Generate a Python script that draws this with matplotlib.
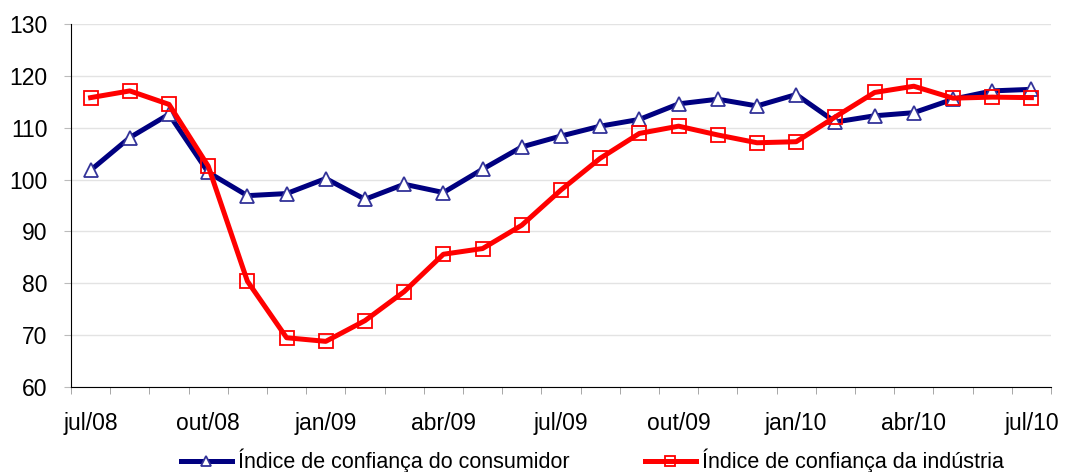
import matplotlib
matplotlib.use("Agg")
import matplotlib.pyplot as plt

plt.rcParams['font.family'] = ['Liberation Sans', 'DejaVu Sans']

months = ["jul/08", "ago/08", "set/08", "out/08", "nov/08", "dez/08", "jan/09", "fev/09", "mar/09",
          "abr/09", "mai/09", "jun/09", "jul/09", "ago/09", "set/09", "out/09", "nov/09", "dez/09",
          "jan/10", "fev/10", "mar/10", "abr/10", "mai/10", "jun/10", "jul/10"]
consumidor = [101.8, 108.1, 112.6, 101.4, 96.9, 97.3, 100.2, 96.2, 99.1, 97.5, 102.0, 106.3,
              108.4, 110.3, 111.6, 114.6, 115.5, 114.2, 116.4, 111.1, 112.3, 112.9, 115.5, 117.1, 117.4]
industria = [115.8, 117.1, 114.5, 102.6, 80.4, 69.5, 68.8, 72.8, 78.4, 85.6, 86.7, 91.2,
             98.0, 104.1, 108.9, 110.3, 108.6, 107.1, 107.3, 112.1, 116.8, 118.0, 115.7, 115.9, 115.8]
label_cons = "Índice de confiança do consumidor"
label_ind = "Índice de confiança da indústria"

fig = plt.figure(figsize=(10.66, 4.72), dpi=100)
ax = fig.add_axes([71/1066, 1-387/472, (1051-71)/1066, (387-24)/472])

x = list(range(len(months)))
ax.plot(x, consumidor, color='#000080', lw=3.6, marker='^', ms=10, mfc='white',
        mec='#333399', mew=1.3, label=label_cons, zorder=3)
ax.plot(x, industria, color='#FF0000', lw=3.6, marker='s', ms=9.5, mfc='none',
        mec='#FF0000', mew=1.3, label=label_ind, zorder=4)

ax.set_xlim(-0.5, len(months) - 0.5)
ax.set_ylim(60, 130)
ax.set_yticks(range(60, 131, 10))
ax.set_xticks(x[::3])
ax.set_xticklabels(months[::3])
ax.set_xticks([i - 0.5 for i in range(len(months) + 1)], minor=True)
ax.tick_params(axis='x', which='major', length=0, pad=18, labelsize=16.5)
ax.tick_params(axis='x', which='minor', length=5, color='#999999', direction='out')
ax.tick_params(axis='y', length=5, color='#bbbbbb', labelsize=16.5, pad=12)
ax.grid(axis='y', color='#e3e3e3', lw=1)
ax.set_axisbelow(True)
for s in ['top', 'right']:
    ax.spines[s].set_visible(False)
ax.spines['left'].set_color('black')
ax.spines['bottom'].set_color('black')

leg = fig.legend(loc='center', bbox_to_anchor=(592/1066, 1-461/472), ncol=2, frameon=False,
                 fontsize=15.5, handlelength=2.4, columnspacing=3.5, handletextpad=0.25,
                 markerscale=0.75, borderpad=0)

fig.savefig("out.png", dpi=100)
